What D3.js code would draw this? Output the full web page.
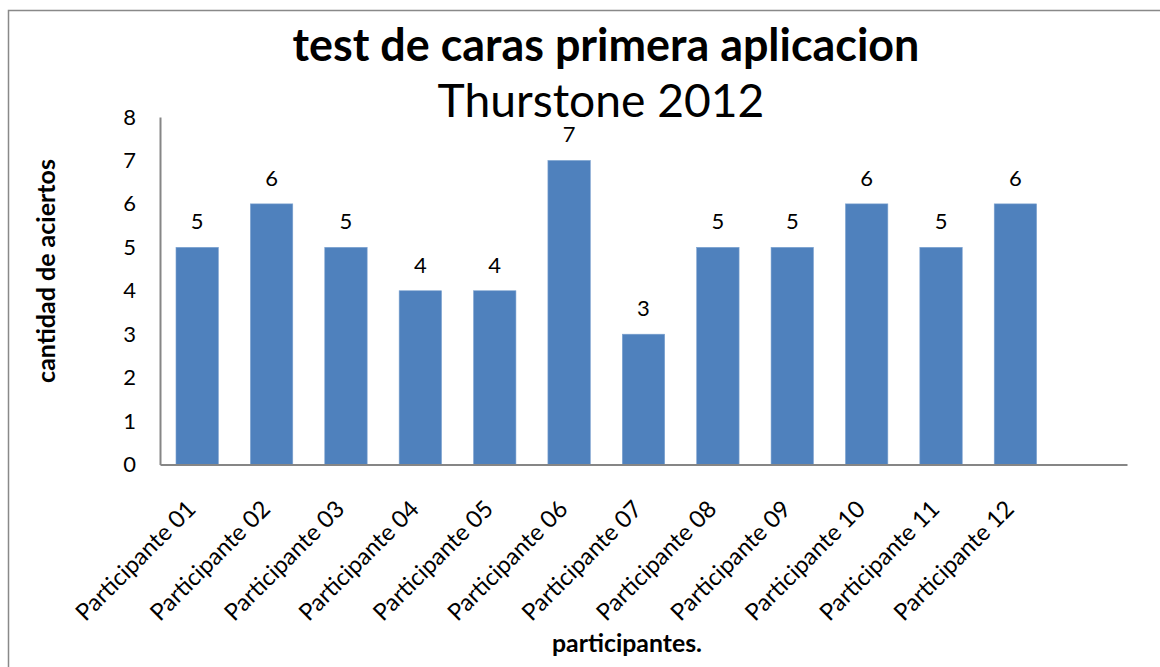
<!DOCTYPE html>
<html><head><meta charset="utf-8">
<script src="https://cdn.jsdelivr.net/npm/d3@7"></script>
<style>html,body{margin:0;padding:0;background:#fff;} svg{display:block;}</style>
</head><body>
<svg id="c" width="1160" height="667"></svg>
<script>
const categories = ["Participante 01","Participante 02","Participante 03","Participante 04","Participante 05","Participante 06","Participante 07","Participante 08","Participante 09","Participante 10","Participante 11","Participante 12"];
const values = [5,6,5,4,4,7,3,5,5,6,5,6];
const yTicks = [0,1,2,3,4,5,6,7,8];
const titleText = "test de caras primera aplicacion";
const subtitleText = "Thurstone 2012";
const yTitle = "cantidad de aciertos";
const xTitle = "participantes.";

(function(){
const FONT = "Lato, 'Open Sans', sans-serif";
const svg = d3.select("#c");
svg.append("rect").attr("x",8.5).attr("y",10.5).attr("width",1170).attr("height",700)
  .attr("fill","#fff").attr("stroke","#898989").attr("stroke-width",1.5);

const pLeft = 160, pRight = 1127, pTop = 117, pBottom = 464.5;
// 13 bands: last one empty (as in the source chart)
const domain = categories.concat(["__empty"]);
const x = d3.scaleBand().domain(domain).range([pLeft, pRight]).paddingInner(0.43).paddingOuter(0.215);
const y = d3.scaleLinear().domain([0, 8]).range([pBottom, pTop]);

function fit(sel, w){
  const n = sel.node(); const fs = parseFloat(sel.attr("font-size"));
  const cw = n.getComputedTextLength(); sel.attr("font-size", fs * w / cw);
}

svg.selectAll("rect.bar").data(values).join("rect").attr("class","bar")
  .attr("x",(d,i)=>x(categories[i])).attr("width",x.bandwidth())
  .attr("y",d=>y(d)).attr("height",d=>y(0)-y(d))
  .attr("fill","#4F81BD").attr("stroke","#7ea3d0").attr("stroke-width",0.6);

svg.selectAll("text.val").data(values).join("text").attr("class","val")
  .attr("x",(d,i)=>x(categories[i])+x.bandwidth()/2).attr("y",d=>y(d)-18)
  .attr("text-anchor","middle").attr("font-family",FONT).attr("font-size",22).attr("fill","#000")
  .text(d=>d);

// y axis
const yAxis = d3.axisLeft(y).tickValues(yTicks).tickSize(0).tickPadding(24).tickFormat(d3.format("d"));
const gy = svg.append("g").attr("transform",`translate(${pLeft},0)`).call(yAxis);
gy.select(".domain").attr("stroke","#868686").attr("stroke-width",2);
gy.selectAll("text").attr("font-family",FONT).attr("font-size",22).attr("fill","#000");

// x axis
const xAxis = d3.axisBottom(x).tickSize(0).tickFormat(d=>d==="__empty"?"":d);
const gx = svg.append("g").attr("transform",`translate(0,${pBottom})`).call(xAxis);
gx.select(".domain").attr("stroke","#868686").attr("stroke-width",2);
const xl = gx.selectAll("text").attr("font-family",FONT).attr("font-size",21).attr("fill","#000")
  .attr("text-anchor","end").attr("dy",0)
  .attr("transform","translate(0,46) rotate(-45)").attr("y",0).attr("x",0);
const first = xl.filter(d=>d===categories[0]);
fit(first, 158);
xl.attr("font-size", first.attr("font-size"));

// titles
const t1 = svg.append("text").attr("x",606).attr("y",61).attr("text-anchor","middle")
  .attr("font-family",FONT).attr("font-weight","bold").attr("font-size",40).text(titleText);
fit(t1, 627);
const t2 = svg.append("text").attr("x",601).attr("y",117).attr("text-anchor","middle")
  .attr("font-family",FONT).attr("font-size",44).text(subtitleText);
fit(t2, 327);
const yt = svg.append("text").attr("transform","translate(55,271) rotate(-90)").attr("text-anchor","middle")
  .attr("font-family",FONT).attr("font-weight","bold").attr("font-size",20).text(yTitle);
fit(yt, 224);
const xt = svg.append("text").attr("x",627).attr("y",652).attr("text-anchor","middle")
  .attr("font-family",FONT).attr("font-weight","bold").attr("font-size",20).text(xTitle);
fit(xt, 150);
})();
</script>
</body></html>
